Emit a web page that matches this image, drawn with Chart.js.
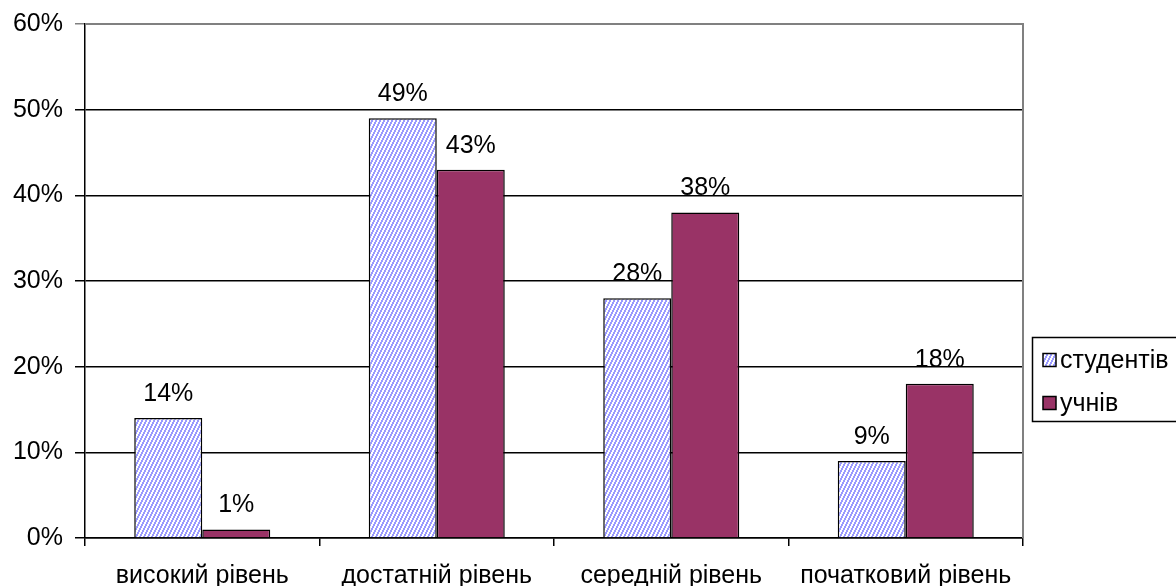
<!DOCTYPE html>
<html>
<head>
<meta charset="utf-8">
<script src="https://cdn.jsdelivr.net/npm/chart.js@4/dist/chart.umd.min.js"></script>
<style>
  html, body { margin: 0; padding: 0; background: #ffffff; }
  #wrap { width: 1176px; height: 586px; position: relative; }
</style>
</head>
<body>
<div id="wrap"><canvas id="chart" width="1176" height="586"></canvas></div>
<script>
// Рівні сформованості
const categories = ['високий рівень', 'достатній рівень', 'середній рівень', 'початковий рівень'];
const seriesNames = ['студентів', 'учнів'];
const studentValues = [14, 49, 28, 9];
const pupilValues = [1, 43, 38, 18];
const yTicks = [0, 10, 20, 30, 40, 50, 60];

const FONT = '"Liberation Sans", Arial, sans-serif';
const FSIZE = 25;

// Steep diagonal hatch fill for the first series
function makeHatch() {
  const c = document.createElement('canvas');
  c.width = 4; c.height = 8;
  const g = c.getContext('2d');
  g.fillStyle = '#ffffff';
  g.fillRect(0, 0, 4, 8);
  g.fillStyle = '#9a9aff';
  for (let r = 0; r < 8; r++) {
    const k = Math.floor((7 - r) / 2);
    g.fillRect(k % 4, r, 1, 1);
    g.fillRect((k + 1) % 4, r, 1, 1);
  }
  return g.createPattern(c, 'repeat');
}
const ctx = document.getElementById('chart').getContext('2d');
const hatch = makeHatch();
const pupilColor = '#993366';

// Value labels above bars
const valueLabels = {
  id: 'valueLabels',
  afterDatasetsDraw(chart) {
    const c = chart.ctx;
    c.save();
    c.font = FSIZE + 'px ' + FONT;
    c.fillStyle = '#000';
    c.textAlign = 'center';
    c.textBaseline = 'alphabetic';
    chart.data.datasets.forEach((ds, i) => {
      chart.getDatasetMeta(i).data.forEach((bar, j) => {
        c.fillText(ds.data[j] + '%', bar.x, bar.y - 17);
      });
    });
    c.restore();
  }
};

// Plot frame (top/right in grey) and boxed legend on the right
const frameAndLegend = {
  id: 'frameAndLegend',
  beforeDatasetsDraw(chart) {
    const a = chart.chartArea;
    const c = chart.ctx;
    c.save();
    c.strokeStyle = '#808080';
    c.lineWidth = 2;
    c.beginPath();
    c.moveTo(a.left, a.top);
    c.lineTo(a.right, a.top);
    c.lineTo(a.right, a.bottom);
    c.stroke();
    c.restore();
  },
  afterDraw(chart) {
    const c = chart.ctx;
    c.save();
    c.strokeStyle = '#000';
    c.lineWidth = 1.5;
    c.strokeRect(1032.5, 337.5, 160, 84);
    c.font = FSIZE + 'px ' + FONT;
    c.textBaseline = 'middle';
    c.textAlign = 'left';
    const rows = [360, 403];
    chart.data.datasets.forEach((ds, i) => {
      const y = rows[i];
      c.fillStyle = ds.backgroundColor;
      c.fillRect(1043, y - 6.5, 13, 13);
      c.lineWidth = 1.5;
      c.strokeStyle = '#000';
      c.strokeRect(1043, y - 6.5, 13, 13);
      c.fillStyle = '#000';
      c.fillText(ds.label, 1060, y + 1);
    });
    c.restore();
  }
};

new Chart(ctx, {
  type: 'bar',
  data: {
    labels: categories,
    datasets: [
      { label: seriesNames[0], data: studentValues, backgroundColor: hatch, borderColor: '#000', borderWidth: 1.5 },
      { label: seriesNames[1], data: pupilValues, backgroundColor: pupilColor, borderColor: '#000', borderWidth: 1.5 }
    ]
  },
  options: {
    responsive: false,
    animation: false,
    devicePixelRatio: 1,
    layout: { padding: { top: 24, right: 153, left: 0, bottom: 0 } },
    plugins: { legend: { display: false }, tooltip: { enabled: false } },
    datasets: { bar: { categoryPercentage: 0.58, barPercentage: 1.0 } },
    scales: {
      x: {
        afterFit(s) { s.height = 48; s.paddingLeft = 0; s.paddingRight = 0; },
        grid: { offset: true, drawOnChartArea: false, tickLength: 8, color: '#000', lineWidth: 1.5 },
        border: { color: '#000', width: 1.5 },
        ticks: { color: '#000', font: { family: FONT, size: FSIZE }, padding: 15, maxRotation: 0, autoSkip: false }
      },
      y: {
        min: 0, max: 60,
        afterFit(s) { s.width = 85; s.paddingTop = 0; s.paddingBottom = 0; },
        afterBuildTicks(s) { s.ticks = yTicks.map(v => ({ value: v })); },
        grid: {
          color: (c) => c.tick && c.tick.value === 60 ? '#808080' : '#000',
          lineWidth: 1.5, tickLength: 10
        },
        border: { color: '#000', width: 1.5 },
        ticks: { color: '#000', font: { family: FONT, size: FSIZE }, padding: 12, callback: v => v + '%' }
      }
    }
  },
  plugins: [valueLabels, frameAndLegend]
});
</script>
</body>
</html>
